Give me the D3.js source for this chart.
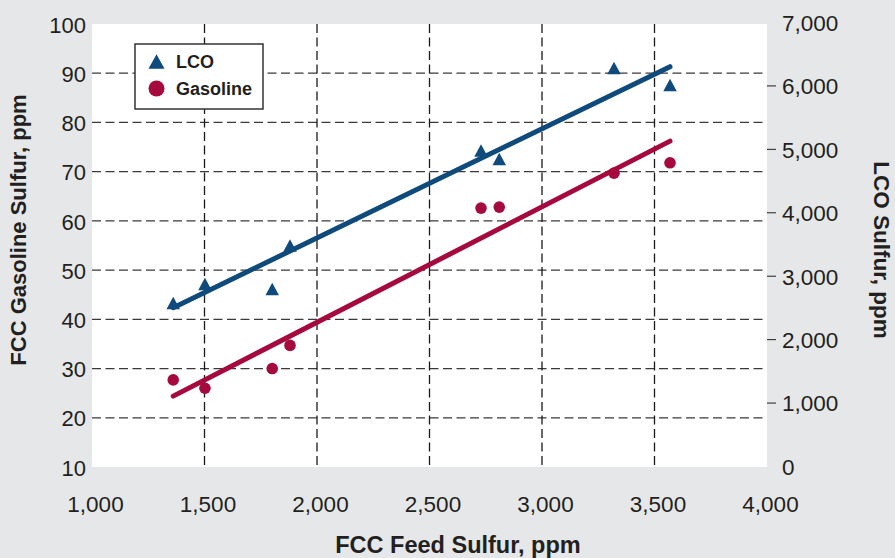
<!DOCTYPE html>
<html>
<head>
<meta charset="utf-8">
<script src="https://cdn.jsdelivr.net/npm/d3@7"></script>
<style>
  html, body { margin: 0; padding: 0; background: #e6e7e8; }
  svg { display: block; font-family: "Liberation Sans", Arial, sans-serif; }
</style>
</head>
<body>
<svg id="chart" width="895" height="558"></svg>
<script>
// ------------------------------------
// Data
// ------------------------------------
const feedSulfur = [1361, 1502, 1801, 1880, 2729, 2810, 3320, 3569];
const lcoSulfur = [2570, 2869, 2790, 3476, 4974, 4840, 6275, 6007];
const gasolineSulfur = [27.7, 26.0, 30.0, 34.7, 62.6, 62.8, 69.7, 71.8];

// fitted trend lines, endpoints
const lcoFit = [[1361, 2496], [3569, 6295]];
const gasolineFit = [[1361, 24.4], [3569, 76.2]];

const xTicks = [1000, 1500, 2000, 2500, 3000, 3500, 4000];
const leftTicks = [10, 20, 30, 40, 50, 60, 70, 80, 90, 100];
const rightTicks = [0, 1000, 2000, 3000, 4000, 5000, 6000, 7000];

const blue = "#0f4a7d";
const red = "#a6093d";
const ink = "#231f20";

// ------------------------------------
// Scales
// ------------------------------------
const svg = d3.select("#chart");
const plot = { left: 92, right: 767, top: 24, bottom: 467 };

const x = d3.scaleLinear().domain([1000, 4000]).range([plot.left, plot.right]);
const yL = d3.scaleLinear().domain([10, 100]).range([plot.bottom, plot.top]);
const yR = d3.scaleLinear().domain([0, 7000]).range([466, 22]);

const fmt = d3.format(",");

// plot background
svg.append("rect")
  .attr("x", plot.left).attr("y", plot.top)
  .attr("width", plot.right - plot.left)
  .attr("height", plot.bottom - plot.top)
  .attr("fill", "#fff");

// ------------------------------------
// Grid
// ------------------------------------
const grid = svg.append("g").attr("stroke-dasharray", "9,4.5").attr("stroke-width", 1.3);

grid.selectAll(".hgrid")
  .data(leftTicks.filter(d => d > 10 && d < 100))
  .join("line")
  .attr("x1", plot.left).attr("x2", plot.right)
  .attr("y1", d => yL(d)).attr("y2", d => yL(d))
  .attr("stroke", "#3a3a3a");

grid.selectAll(".vgrid")
  .data(xTicks.filter(d => d > 1000 && d < 4000))
  .join("line")
  .attr("x1", d => x(d)).attr("x2", d => x(d))
  .attr("y1", plot.top).attr("y2", plot.bottom)
  .attr("stroke", "#1a1a1a");

// ------------------------------------
// Axes
// ------------------------------------
const xAxis = svg.append("g")
  .attr("transform", `translate(0,${plot.bottom})`)
  .call(d3.axisBottom(x).tickValues(xTicks).tickFormat(fmt).tickSize(0).tickPadding(0));
xAxis.select(".domain").remove();
xAxis.selectAll("text")
  .attr("dy", null).attr("y", 45).attr("dx", 3)
  .attr("font-size", 22.5).attr("fill", ink)
  .attr("font-family", "'Liberation Sans', Arial, sans-serif");

const yAxisL = svg.append("g")
  .attr("transform", `translate(${plot.left},0)`)
  .call(d3.axisLeft(yL).tickValues(leftTicks).tickSize(0).tickPadding(6));
yAxisL.select(".domain").remove();
yAxisL.selectAll("text")
  .attr("dy", "0.37em")
  .attr("font-size", 22).attr("fill", ink)
  .attr("font-family", "'Liberation Sans', Arial, sans-serif");

const yAxisR = svg.append("g")
  .attr("transform", `translate(${plot.right},0)`)
  .call(d3.axisRight(yR).tickValues(rightTicks).tickFormat(fmt).tickSize(9).tickPadding(6));
yAxisR.select(".domain").remove();
yAxisR.selectAll("line")
  .attr("stroke", ink)
  .attr("stroke-width", 1)
  .attr("opacity", d => (d === 0 || d === 7000) ? 0 : 1);
yAxisR.selectAll("text")
  .attr("dy", "0.37em")
  .attr("x", 15)
  .attr("font-size", 22.5).attr("fill", ink)
  .attr("font-family", "'Liberation Sans', Arial, sans-serif");

// axis titles
svg.append("text")
  .attr("x", 458).attr("y", 553)
  .attr("text-anchor", "middle")
  .attr("font-size", 23.5).attr("font-weight", "bold").attr("fill", ink)
  .text("FCC Feed Sulfur, ppm");

svg.append("text")
  .attr("transform", "translate(26,230) rotate(-90)")
  .attr("text-anchor", "middle")
  .attr("font-size", 22).attr("font-weight", "bold").attr("fill", ink)
  .text("FCC Gasoline Sulfur, ppm");

svg.append("text")
  .attr("transform", "translate(874,250) rotate(90)")
  .attr("text-anchor", "middle")
  .attr("font-size", 22.5).attr("font-weight", "bold").attr("fill", ink)
  .text("LCO Sulfur, ppm");

// ------------------------------------
// Trend lines
// ------------------------------------
svg.append("path")
  .datum(lcoFit)
  .attr("fill", "none")
  .attr("stroke", blue)
  .attr("stroke-width", 5)
  .attr("stroke-linecap", "round")
  .attr("d", d3.line().x(d => x(d[0])).y(d => yR(d[1])));

svg.append("path")
  .datum(gasolineFit)
  .attr("fill", "none")
  .attr("stroke", red)
  .attr("stroke-width", 5)
  .attr("stroke-linecap", "round")
  .attr("d", d3.line().x(d => x(d[0])).y(d => yL(d[1])));

// ------------------------------------
// Points
// ------------------------------------
const tri = (w, h) => `M0,${-h / 2}L${w / 2},${h / 2}L${-w / 2},${h / 2}Z`;

svg.selectAll(".lco-point")
  .data(feedSulfur.map((f, i) => ({ f, v: lcoSulfur[i] })))
  .join("path")
  .attr("class", "lco-point")
  .attr("transform", d => `translate(${x(d.f)},${yR(d.v)})`)
  .attr("d", tri(13.5, 12.5))
  .attr("fill", blue);

svg.selectAll(".gas-point")
  .data(feedSulfur.map((f, i) => ({ f, v: gasolineSulfur[i] })))
  .join("circle")
  .attr("class", "gas-point")
  .attr("cx", d => x(d.f))
  .attr("cy", d => yL(d.v))
  .attr("r", 5.8)
  .attr("fill", red);

// ------------------------------------
// Legend
// ------------------------------------
const legend = svg.append("g").attr("transform", "translate(135,44)");

legend.append("rect")
  .attr("width", 128).attr("height", 65)
  .attr("fill", "#fff")
  .attr("stroke", "#333").attr("stroke-width", 1.5);

legend.append("path")
  .attr("transform", "translate(21.5,17.5)")
  .attr("d", tri(16, 14.5))
  .attr("fill", blue);
legend.append("text")
  .attr("x", 41).attr("y", 24)
  .attr("font-size", 18).attr("font-weight", "bold").attr("fill", ink)
  .text("LCO");

legend.append("circle")
  .attr("cx", 21.5).attr("cy", 44.5).attr("r", 8)
  .attr("fill", red);
legend.append("text")
  .attr("x", 41).attr("y", 50.5)
  .attr("font-size", 18).attr("font-weight", "bold").attr("fill", ink)
  .text("Gasoline");
</script>
</body>
</html>
